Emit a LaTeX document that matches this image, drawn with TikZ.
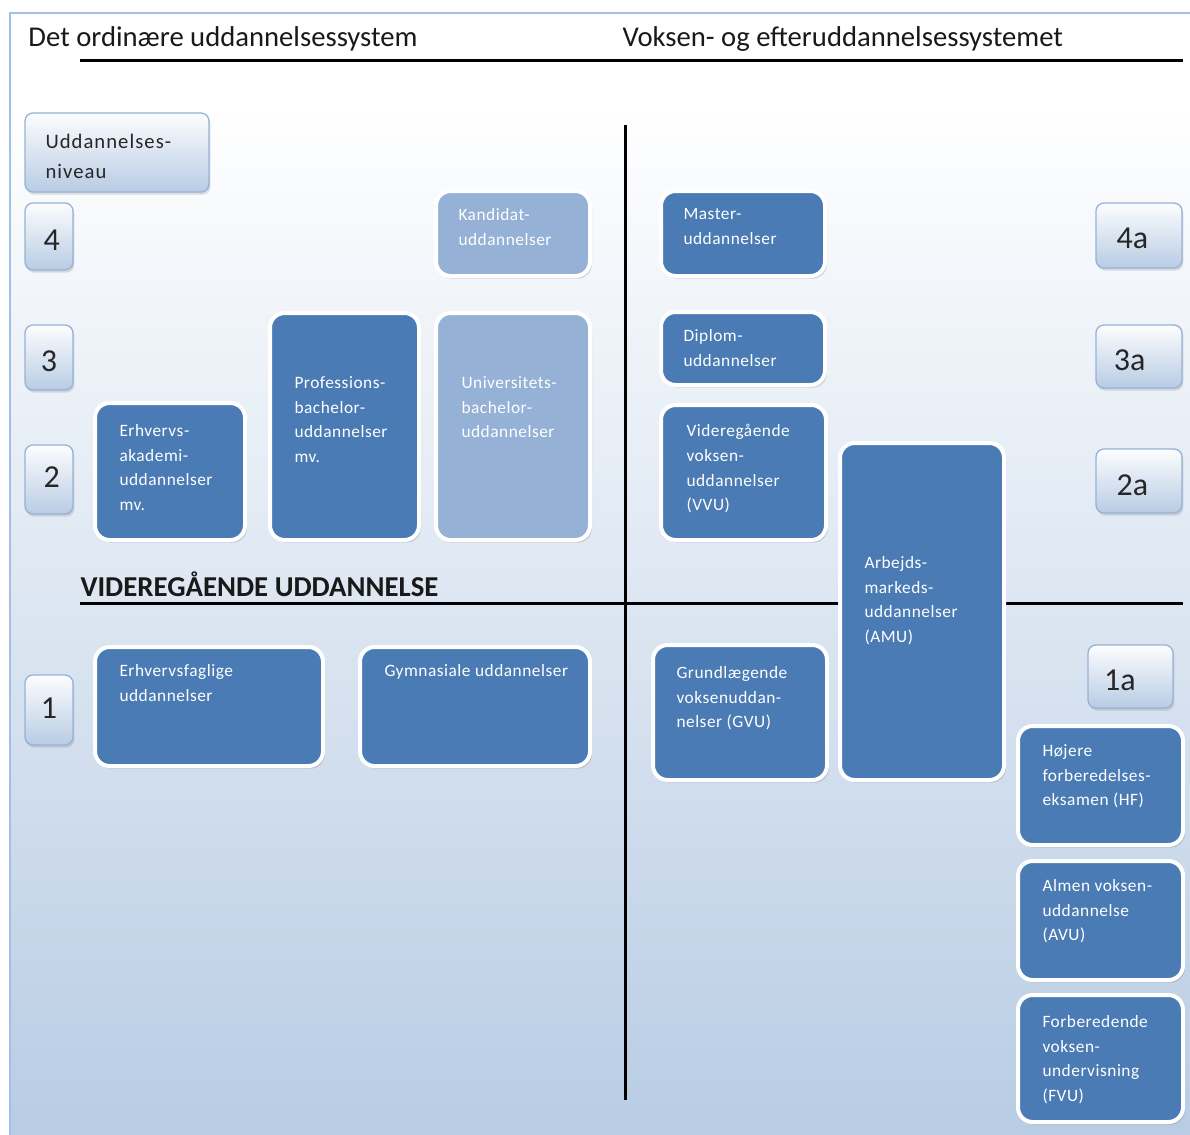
\documentclass[tikz,border=0pt]{standalone}
\usepackage{fontspec}
\setmainfont{Carlito}
\newfontfamily\boxfont[LetterSpace=3]{Carlito}
\newfontfamily\lvlfont[LetterSpace=5]{Carlito}
\usetikzlibrary{fit,shadows}

\definecolor{boxblue}{RGB}{74,123,181}
\definecolor{boxlight}{RGB}{149,177,214}
\definecolor{bgblue}{RGB}{184,204,228}
\definecolor{lvlborder}{RGB}{150,178,214}
\definecolor{framecol}{RGB}{163,191,226}

\tikzset{every picture/.style={line width=0.75pt}}
\tikzset{
  edubox/.style={rounded corners=11pt, draw=white, line width=3pt, fill=boxblue, inner sep=0pt,
    drop shadow={opacity=0.3, shadow xshift=1.5pt, shadow yshift=-2pt}},
  edulight/.style={edubox, fill=boxlight},
  lvlbox/.style={rounded corners=6pt, draw=lvlborder, line width=1pt, inner sep=0pt,
    top color=white!96!bgblue, bottom color=bgblue,
    drop shadow={opacity=0.25, shadow xshift=1pt, shadow yshift=-2pt}},
  lvlnum/.style={inner sep=0pt, text=black!85, font=\fontsize{24}{28}\selectfont},
  boxtxt/.style={anchor=north west, inner sep=0pt, align=left, text=white,
    font=\boxfont\fontsize{13}{18.5}\selectfont},
  headtxt/.style={anchor=west, inner sep=0pt, text=black!90, font=\fontsize{21.5}{26}\selectfont},
  divider/.style={line width=2.25pt}
}

\begin{document}
\begin{tikzpicture}[x=0.75pt,y=0.75pt,yscale=-1,xscale=1]
	\useasboundingbox (0,0) rectangle (1190,1135);
	
	% background and frame
	\fill [white] (0,0) rectangle (1190,1135);
	\shade [top color=white, bottom color=bgblue] (10,100) rectangle (1190,1135);
	\draw [framecol, line width=1pt] (1190,13) -- (10,13) -- (10,1135);
	
	% headings
	\node [headtxt] (ordtitle) at (28,39) {Det ordinære uddannelsessystem};
	\node [headtxt] (vuetitle) at (622,39) {Voksen- og efteruddannelsessystemet};
	\node [headtxt, font=\bfseries\fontsize{21.6}{26}\selectfont] (vidtitle) at (80,584) {VIDEREGÅENDE UDDANNELSE};
	
	% dividers
	\draw [divider] (80,60) -- (1183,60) ;
	\draw [divider] (625,125) -- (625,1100) ;
	\draw [divider] (80,603) -- (1183,603) ;
	
	% levels, left
	\node [lvlbox, fit={(25,113) (209,192)}] (lvlhead) {};
	\node [anchor=north west, inner sep=0pt, align=left, text=black!85,
	  font=\lvlfont\fontsize{15.5}{22.5}\selectfont] (lvlhead-t) at (45,134) {Uddannelses-\\niveau};
	\node [lvlbox, fit={(25,203) (73,270)}] (lvl4) {};
	\node [lvlnum] (lvl4-t) at ([xshift=2,yshift=3]lvl4.center) {4};
	\node [lvlbox, fit={(25,325) (73,390)}] (lvl3) {};
	\node [lvlnum] (lvl3-t) at ([yshift=3]lvl3.center) {3};
	\node [lvlbox, fit={(25,445) (73,514)}] (lvl2) {};
	\node [lvlnum] (lvl2-t) at ([xshift=2,yshift=-2]lvl2.center) {2};
	\node [lvlbox, fit={(25,675) (73,745)}] (lvl1) {};
	\node [lvlnum] (lvl1-t) at ([yshift=-1]lvl1.center) {1};
	
	% levels, right
	\node [lvlbox, fit={(1096,203) (1182,268)}] (lvl4a) {};
	\node [lvlnum] (lvl4a-t) at ([xshift=-5,yshift=2]lvl4a.center) {4a};
	\node [lvlbox, fit={(1096,325) (1182,388)}] (lvl3a) {};
	\node [lvlnum] (lvl3a-t) at ([xshift=-7,yshift=3]lvl3a.center) {3a};
	\node [lvlbox, fit={(1096,449) (1182,513)}] (lvl2a) {};
	\node [lvlnum] (lvl2a-t) at ([xshift=-5,yshift=3]lvl2a.center) {2a};
	\node [lvlbox, fit={(1088,645) (1173,708)}] (lvl1a) {};
	\node [lvlnum] (lvl1a-t) at ([xshift=-8,yshift=3]lvl1a.center) {1a};
	
	% ordinary system
	\node [edulight, fit={(436,191) (590,276)}] (kand) {};
	\node [boxtxt] (kand-t) at (458,208) {Kandidat-\\uddannelser};
	\node [edubox, fit={(270,313) (419,540)}] (profba) {};
	\node [boxtxt] (profba-t) at (294,376) {Professions-\\bachelor-\\uddannelser\\mv.};
	\node [edulight, fit={(436,313) (590,540)}] (uniba) {};
	\node [boxtxt] (uniba-t) at (461,376) {Universitets-\\bachelor-\\uddannelser};
	\node [edubox, fit={(95,403) (245,540)}] (erhak) {};
	\node [boxtxt] (erhak-t) at (119,424) {Erhvervs-\\akademi-\\uddannelser\\mv.};
	\node [edubox, fit={(95,647) (323,766)}] (erhfag) {};
	\node [boxtxt] (erhfag-t) at (119,664) {Erhvervsfaglige\\uddannelser};
	\node [edubox, fit={(360,647) (590,766)}] (gym) {};
	\node [boxtxt] (gym-t) at (384,664) {Gymnasiale uddannelser};
	
	% adult and continuing system
	\node [edubox, fit={(661,191) (825,276)}] (master) {};
	\node [boxtxt] (master-t) at (683,208) {Master-\\uddannelser};
	\node [edubox, fit={(661,312) (825,385)}] (diplom) {};
	\node [boxtxt] (diplom-t) at (683,329) {Diplom-\\uddannelser};
	\node [edubox, fit={(661,405) (826,540)}] (vvu) {};
	\node [boxtxt] (vvu-t) at (686,424) {Videregående\\voksen-\\uddannelser\\(VVU)};
	\node [edubox, fit={(840,443) (1004,780)}] (amu) {};
	\node [boxtxt] (amu-t) at (864,556) {Arbejds-\\markeds-\\uddannelser\\(AMU)};
	\node [edubox, fit={(653,645) (827,780)}] (gvu) {};
	\node [boxtxt] (gvu-t) at (676,666) {Grundlægende\\voksenuddan-\\nelser (GVU)};
	\node [edubox, fit={(1018,726) (1183,845)}] (hf) {};
	\node [boxtxt] (hf-t) at (1042,744) {Højere\\forberedelses-\\eksamen (HF)};
	\node [edubox, fit={(1018,861) (1183,980)}] (avu) {};
	\node [boxtxt] (avu-t) at (1042,879) {Almen voksen-\\uddannelse\\(AVU)};
	\node [edubox, fit={(1018,995) (1183,1122)}] (fvu) {};
	\node [boxtxt] (fvu-t) at (1042,1015) {Forberedende\\voksen-\\undervisning\\(FVU)};
	
\end{tikzpicture}
\end{document}
